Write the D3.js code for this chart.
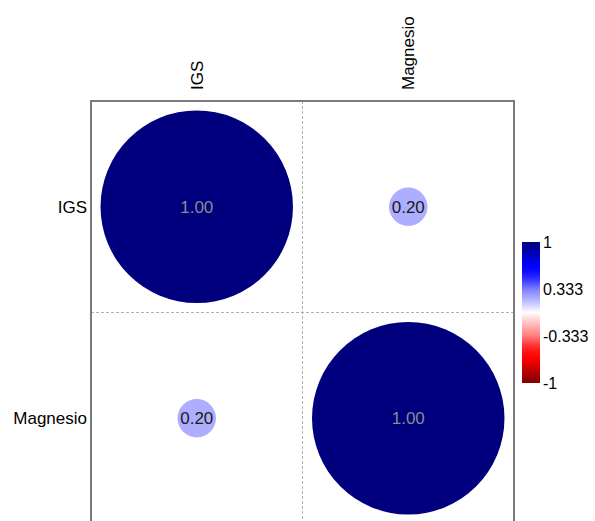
<!DOCTYPE html>
<html><head><meta charset="utf-8">
<script src="https://cdn.jsdelivr.net/npm/d3@7"></script>
<style>body{margin:0;background:#fff;} svg{display:block;font-family:"Liberation Sans",Arial,sans-serif;}</style>
</head><body>
<script>
const variables = ["IGS", "Magnesio"];
const corr = [[1.00, 0.20],[0.20, 1.00]];
const legendTicks = [1, 0.333, -0.333, -1];
const paletteStops = [-1, -2/3, -1/3, 0, 1/3, 2/3, 1];
const paletteColors = ["#7F0000","#FF0000","#FF7F7F","#FFFFFF","#7F7FFF","#0000FF","#00007F"];

const W = 595, H = 521;
const svg = d3.select("body").append("svg").attr("width", W).attr("height", H);

const x = d3.scaleBand().domain(variables).range([91, 514]);
const y = d3.scaleBand().domain(variables).range([101, 524]);
const color = d3.scaleLinear().domain(paletteStops).range(paletteColors).interpolate(d3.interpolateRgb.gamma(0.6));
const rScale = d3.scaleLinear().domain([0, 1]).range([0, x.bandwidth() * 0.455]);

// grid
const g = svg.append("g");
variables.slice(1).forEach(v => {
  g.append("line").attr("x1", x(v)).attr("x2", x(v)).attr("y1", y.range()[0]).attr("y2", y.range()[1])
    .attr("stroke", "#b0b0b0").attr("stroke-dasharray", "3,2").attr("stroke-width", 1);
  g.append("line").attr("y1", y(v)).attr("y2", y(v)).attr("x1", x.range()[0]).attr("x2", x.range()[1])
    .attr("stroke", "#b0b0b0").attr("stroke-dasharray", "3,2").attr("stroke-width", 1);
});

// cells
const cells = [];
variables.forEach((rv, i) => variables.forEach((cv, j) => cells.push({row: rv, col: cv, v: corr[i][j]})));
const cg = svg.append("g").selectAll("g").data(cells).join("g")
  .attr("transform", d => `translate(${x(d.col) + x.bandwidth()/2},${y(d.row) + y.bandwidth()/2})`);
cg.append("circle").attr("r", d => rScale(Math.abs(d.v))).attr("fill", d => color(d.v));
cg.append("text").attr("text-anchor", "middle").attr("dy", "0.35em")
  .attr("font-size", 17)
  .attr("fill", d => Math.abs(d.v) > 0.6 ? "#8a8a8a" : "#1a1a1a")
  .text(d => d.v.toFixed(2));

// border
svg.append("rect").attr("x", x.range()[0]).attr("y", y.range()[0])
  .attr("width", x.range()[1] - x.range()[0]).attr("height", y.range()[1] - y.range()[0])
  .attr("fill", "none").attr("stroke", "#7a7a7a").attr("stroke-width", 2);

// labels
svg.append("g").selectAll("text").data(variables).join("text")
  .attr("transform", d => `translate(${x(d) + x.bandwidth()/2 + 6},90) rotate(-90)`)
  .attr("font-size", 17).attr("fill", "#000").text(d => d);
svg.append("g").selectAll("text").data(variables).join("text")
  .attr("x", 87).attr("y", d => y(d) + y.bandwidth()/2 + 6)
  .attr("text-anchor", "end").attr("font-size", 17).attr("fill", "#000").text(d => d);

// legend
const defs = svg.append("defs");
const grad = defs.append("linearGradient").attr("id", "cb").attr("x1", 0).attr("x2", 0).attr("y1", 1).attr("y2", 0);
d3.range(0, 1.0001, 0.02).forEach(t => grad.append("stop").attr("offset", t).attr("stop-color", color(t * 2 - 1)));
const ly = d3.scaleLinear().domain([-1, 1]).range([383, 242]);
svg.append("rect").attr("x", 522).attr("y", ly(1)).attr("width", 18).attr("height", ly(-1) - ly(1)).attr("fill", "url(#cb)");
svg.append("g").selectAll("text").data(legendTicks).join("text")
  .attr("x", 543).attr("y", d => ly(d) + 6).attr("font-size", 16).attr("fill", "#000").text(d => String(d));
</script>
</body></html>
